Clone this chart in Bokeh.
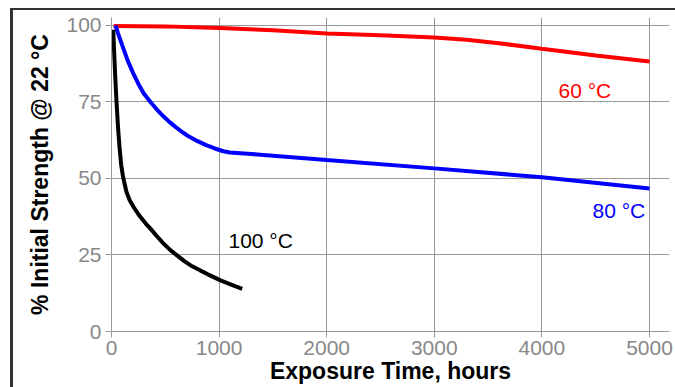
from bokeh.plotting import figure
from bokeh.models import Range1d, FixedTicker
from bokeh.core.properties import value
from bokeh.embed import file_html
from bokeh.resources import INLINE

# 60 °C series
t60 = [20, 500, 1000, 1500, 2000, 2500, 3000, 3300, 3600, 4000, 4500, 5000]
s60 = [99.8, 99.7, 99.2, 98.4, 97.4, 96.8, 96.1, 95.3, 94.2, 92.4, 90.2, 88.2]

# 80 °C series
t80 = [37, 60, 100, 150, 200, 250, 300, 362, 420, 480, 540, 600, 660, 720, 800, 880,
       960, 1040, 1100, 1300, 2000, 3000, 4000, 5000]
s80 = [100, 97.5, 93.5, 88.6, 84.5, 80.9, 77.8, 75, 72.6, 70.4, 68.4, 66.7, 65.1, 63.7,
       62.2, 60.9, 59.8, 58.9, 58.5, 58.0, 56.0, 53.3, 50.4, 46.7]

# 100 °C series
t100 = [16, 25, 35, 46, 60, 75, 90, 105, 120, 140, 170, 207, 260, 320, 362, 420, 490,
        550, 611, 680, 750, 827, 900, 960, 1013, 1100, 1215]
s100 = [98.6, 91, 83, 75.5, 67, 60, 54.5, 51, 48.5, 45.5, 42.8, 40.6, 37.8, 35.2, 33.6,
        31.2, 28.5, 26.5, 24.8, 22.9, 21.3, 19.9, 18.6, 17.6, 16.7, 15.5, 13.9]

x_ticks = [0, 1000, 2000, 3000, 4000, 5000]
y_ticks = [0, 25, 50, 75, 100]

labels = ["60 °C", "80 °C", "100 °C"]
label_x = [4154, 4470, 1087]
label_y = [78.8, 39.5, 29.7]
label_colors = ["#ff0000", "#0000ff", "#000000"]

FONT = "Liberation Sans"

p = figure(width=675, height=387, output_backend="svg", toolbar_location=None,
           x_range=Range1d(0, 5186), y_range=Range1d(0, 102.6),
           min_border_left=111, min_border_right=6, min_border_top=17, min_border_bottom=56)
p.outline_line_color = None
p.border_fill_color = None
p.styles = {
    "background-color": "#ffffff",
    "background-image": "linear-gradient(#333333, #333333), linear-gradient(#333333, #333333)",
    "background-position": "10px 8px, 10px 8px",
    "background-size": "3px 500px, 800px 2px",
    "background-repeat": "no-repeat, no-repeat",
}

p.line(t60, s60, line_color="#ff0000", line_width=4)
p.line(t80, s80, line_color="#0000ff", line_width=4)
p.line(t100, s100, line_color="#000000", line_width=4)

p.text(x=label_x, y=label_y, text=labels, text_color=label_colors,
       text_font=value(FONT), text_font_size="21px",
       text_align="left", text_baseline="middle")

for ax, ticks in ((p.xaxis, x_ticks), (p.yaxis, y_ticks)):
    ax.ticker = FixedTicker(ticks=ticks)
    ax.minor_tick_line_color = None
    ax.major_tick_out = 6
    ax.major_tick_in = 0
    ax.major_tick_line_color = "#999999"
    ax.axis_line_color = "#999999"
    ax.major_label_text_color = "#888888"
    ax.major_label_text_font = FONT
    ax.major_label_text_font_size = "21px"
    ax.axis_label_text_font = FONT
    ax.axis_label_text_font_style = "bold"
    ax.axis_label_text_font_size = "23px"
    ax.axis_label_text_color = "#000000"

p.xaxis.axis_label = "Exposure Time, hours"
p.yaxis.axis_label = "% Initial Strength @ 22 °C"
p.xaxis.major_label_standoff = 3
p.yaxis.major_label_standoff = 4
p.xaxis.axis_label_standoff = 0
p.yaxis.axis_label_standoff = 10

p.xgrid.ticker = FixedTicker(ticks=x_ticks)
p.ygrid.ticker = FixedTicker(ticks=y_ticks)
p.grid.grid_line_color = "#999999"
p.grid.grid_line_width = 1

open("out.html", "w").write(file_html(p, INLINE))
